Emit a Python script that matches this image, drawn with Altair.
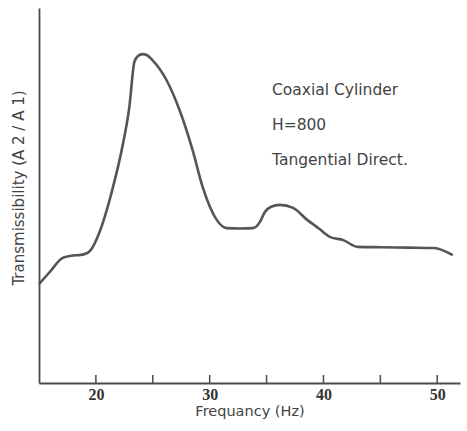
import altair as alt
import pandas as pd

# Curve (frequency in Hz, transmissibility in arbitrary units)
freq = [15.0, 16.0, 17.05, 18.0, 18.53, 19.2, 19.56, 20.29, 21.44, 22.32, 22.94, 23.38,
        23.7, 24.09, 24.5, 24.97, 26.2, 27.35, 28.5, 29.38, 30.62, 31.5, 32.6, 33.8,
        34.41, 34.85, 35.4, 36.18, 37.33, 38.57, 39.6, 40.6, 41.75, 42.99, 45.0,
        47.5, 49.7, 51.37]
trans = [2.64, 2.98, 3.33, 3.40, 3.41, 3.46, 3.55, 4.00, 5.15, 6.29, 7.36, 8.56,
         8.72, 8.77, 8.74, 8.61, 8.08, 7.28, 6.21, 5.23, 4.35, 4.13, 4.12, 4.13,
         4.29, 4.56, 4.70, 4.75, 4.67, 4.35, 4.12, 3.89, 3.81, 3.63, 3.62,
         3.61, 3.60, 3.41]

tick_values = [20, 25, 30, 35, 40, 45, 50]
label_values = [20, 30, 40, 50]
notes = ["Coaxial Cylinder", "H=800", "Tangential Direct."]

W, H = 421, 375
ink = "#4a4a4a"

curve = pd.DataFrame({"f": freq, "t": trans})
ticks = pd.DataFrame({"f": tick_values})

xscale = alt.Scale(domain=[15, 52], nice=False, zero=False)
yscale = alt.Scale(domain=[0, 10], nice=False)

line = alt.Chart(curve).mark_line(
    color="#555555", strokeWidth=2.6, interpolate="monotone"
).encode(
    x=alt.X("f:Q", scale=xscale,
            axis=alt.Axis(values=label_values, tickSize=0, grid=False,
                          domainColor=ink, domainWidth=1.8,
                          labelFont="Liberation Sans Narrow", labelFontWeight="bold",
                          labelFontSize=16, labelColor="#333333", labelPadding=3,
                          title="Frequancy (Hz)", titleFont="DejaVu Sans",
                          titleFontSize=14.5, titleFontWeight="normal",
                          titleColor="#444444", titlePadding=2)),
    y=alt.Y("t:Q", scale=yscale,
            axis=alt.Axis(labels=False, ticks=False, grid=False,
                          domainColor=ink, domainWidth=1.8,
                          title="Transmissibility (A 2 / A 1)",
                          titleFont="DejaVu Sans", titleFontSize=15,
                          titleFontWeight="normal", titleColor="#444444",
                          titleX=-21, titleY=H / 2 - 8, titleBaseline="middle",
                          titleAngle=270)),
)

tick_marks = alt.Chart(ticks).mark_rule(color=ink, strokeWidth=1.5).encode(
    x=alt.X("f:Q", scale=xscale),
    y=alt.value(H - 8),
    y2=alt.value(H),
)

note_layers = []
for i, s in enumerate(notes):
    note_layers.append(
        alt.Chart(pd.DataFrame({"s": [s]})).mark_text(
            align="left", baseline="middle", font="DejaVu Sans", fontSize=15.5,
            color="#444444"
        ).encode(text="s:N", x=alt.value(233), y=alt.value(82 + 35 * i))
    )

chart = alt.layer(line, tick_marks, *note_layers).properties(
    width=W, height=H,
    autosize=alt.AutoSizeParams(type="none"),
    padding={"left": 39, "top": 8, "right": 7, "bottom": 48},
    background="white",
).configure_view(stroke=None)

chart.save("out.html", embed_options={"renderer": "svg", "actions": False})
